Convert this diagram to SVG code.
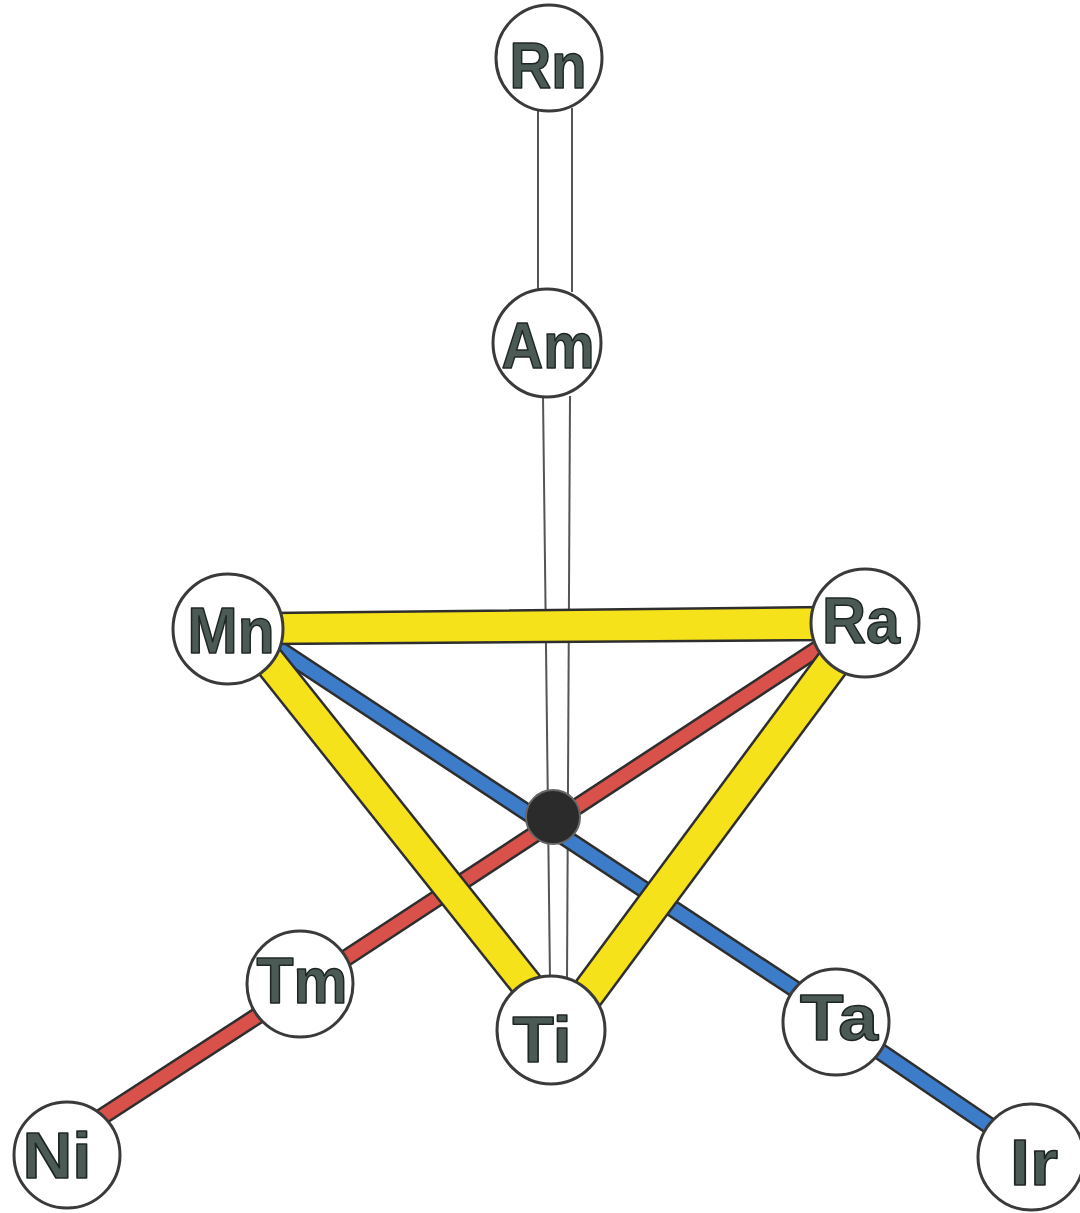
<svg xmlns="http://www.w3.org/2000/svg" width="1080" height="1213" viewBox="0 0 1080 1213">
<style>
.node circle{fill:#fff;stroke:#3a3a3a;stroke-width:3}
.node text{font-family:"Liberation Sans",Arial,sans-serif;font-weight:bold;font-size:64px;fill:#4b5a54;stroke:#1e2622;stroke-width:1.6;stroke-linejoin:round;text-anchor:middle}
.dbl{stroke:#555;stroke-width:2;fill:none}
.out{stroke:#2e2e2e;stroke-linecap:butt}
.ylw{stroke:#f6e21a;stroke-linecap:butt}
.red{stroke:#d8524b;stroke-linecap:butt}
.blu{stroke:#3d7cc9;stroke-linecap:butt}
</style>
<rect width="1080" height="1213" fill="#fff"/>
<g id="connectors">
  <!-- double lines -->
  <line class="dbl" x1="538" y1="108" x2="538" y2="292"/>
  <line class="dbl" x1="572" y1="108" x2="572" y2="292"/>
  <line class="dbl" x1="543" y1="396" x2="550" y2="980"/>
  <line class="dbl" x1="570" y1="396" x2="567" y2="980"/>
  <!-- blue Mn - Ta -->
  <line class="out" x1="270" y1="643" x2="810" y2="999" stroke-width="18"/>
  <line class="blu" x1="270" y1="643" x2="810" y2="999" stroke-width="13"/>
  <!-- blue Ta - Ir -->
  <line class="out" x1="872" y1="1046" x2="1000" y2="1133" stroke-width="18"/>
  <line class="blu" x1="872" y1="1046" x2="1000" y2="1133" stroke-width="13"/>
  <!-- red Ra - Tm -->
  <line class="out" x1="825" y1="644" x2="340" y2="962" stroke-width="18"/>
  <line class="red" x1="825" y1="644" x2="340" y2="962" stroke-width="13"/>
  <!-- red Tm - Ni -->
  <line class="out" x1="265" y1="1011" x2="100" y2="1118" stroke-width="18"/>
  <line class="red" x1="265" y1="1011" x2="100" y2="1118" stroke-width="13"/>
  <!-- yellow Mn - Ra -->
  <polygon points="270,613 825,607 825,640 270,644" fill="#f6e21a" stroke="#2e2e2e" stroke-width="2.5"/>
  <!-- yellow Mn - Ti -->
  <line class="out" x1="265" y1="656" x2="535" y2="995" stroke-width="34"/>
  <line class="ylw" x1="265" y1="656" x2="535" y2="995" stroke-width="29"/>
  <!-- yellow Ra - Ti -->
  <line class="out" x1="835" y1="660" x2="586" y2="996" stroke-width="36"/>
  <line class="ylw" x1="835" y1="660" x2="586" y2="996" stroke-width="31"/>
</g>
<g id="center">
  <circle cx="553" cy="817" r="27" fill="#2b2b2b" stroke="#666" stroke-width="2"/>
</g>
<g id="Rn" class="node"><circle cx="549" cy="58" r="53"/><text x="548" y="88" textLength="77" lengthAdjust="spacingAndGlyphs">Rn</text></g>
<g id="Am" class="node"><circle cx="547" cy="343" r="54"/><text x="548" y="368" textLength="93" lengthAdjust="spacingAndGlyphs">Am</text></g>
<g id="Mn" class="node"><circle cx="228" cy="629" r="55"/><text x="231" y="653" textLength="87" lengthAdjust="spacingAndGlyphs">Mn</text></g>
<g id="Ra" class="node"><circle cx="865" cy="623" r="54"/><text x="861" y="643" textLength="78" lengthAdjust="spacingAndGlyphs">Ra</text></g>
<g id="Tm" class="node"><circle cx="300" cy="984" r="53"/><text x="302" y="1003" textLength="91" lengthAdjust="spacingAndGlyphs">Tm</text></g>
<g id="Ti" class="node"><circle cx="551" cy="1030" r="54"/><text x="542" y="1062" textLength="59" lengthAdjust="spacingAndGlyphs">Ti</text></g>
<g id="Ta" class="node"><circle cx="836" cy="1022" r="53"/><text x="839" y="1040" textLength="78" lengthAdjust="spacingAndGlyphs">Ta</text></g>
<g id="Ni" class="node"><circle cx="67" cy="1155" r="53"/><text x="57" y="1178" textLength="69" lengthAdjust="spacingAndGlyphs">Ni</text></g>
<g id="Ir" class="node"><circle cx="1031" cy="1157" r="53"/><text x="1034" y="1185" textLength="48" lengthAdjust="spacingAndGlyphs">Ir</text></g>
</svg>
